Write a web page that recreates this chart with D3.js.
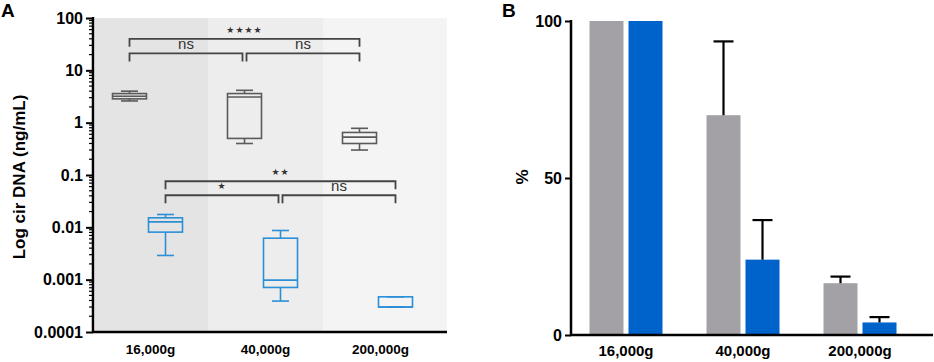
<!DOCTYPE html>
<html>
<head>
<meta charset="utf-8">
<script src="https://cdn.jsdelivr.net/npm/d3@7"></script>
<style>
  body { margin: 0; background: #fff; }
  svg text { font-family: "Liberation Sans", Arial, sans-serif; }
</style>
</head>
<body>
<svg id="chart" width="934" height="362"></svg>
<script>
// categories
const categories = ["16,000g", "40,000g", "200,000g"];

// panel A: box stats (min, q1, median, q3, max), ng/mL
const grayBoxes = [
  [2.6, 2.85, 3.2, 3.6, 4.0],
  [0.40, 0.50, 3.1, 3.6, 4.15],
  [0.30, 0.40, 0.53, 0.65, 0.78]
];
const blueBoxes = [
  [0.0029, 0.0081, 0.0127, 0.0152, 0.0176],
  [0.00039, 0.00071, 0.00098, 0.0062, 0.0087],
  [0.0003, 0.0003, 0.0003, 0.00047, 0.00047]
];
const logTicks = [100, 10, 1, 0.1, 0.01, 0.001, 0.0001];

// significance brackets: [from, to, level value, label]
const grayBrackets = [
  [0, 2, 40, "★★★★"],
  [0, 1, 21, "ns"],
  [1, 2, 21, "ns"]
];
const blueBrackets = [
  [0, 2, 0.076, "★★"],
  [0, 1, 0.041, "★"],
  [1, 2, 0.041, "ns"]
];

// panel B: percentages with SD
const grayPct = [100, 70, 16.5];
const grayErr = [0, 23.5, 2.1];
const bluePct = [100, 24, 4];
const blueErr = [0, 12.6, 1.7];
const pctTicks = [0, 50, 100];

const svg = d3.select("#chart");
const grayLine = "#5a5a5a";
const blueLine = "#2b8fd6";
const grayFill = "#a3a1a6";
const blueFill = "#0063cc";

// ---------- panel A ----------
const xA = d3.scaleBand().domain(d3.range(categories.length)).range([93, 438]);
const yA = d3.scaleLog().domain([0.0001, 100]).range([332, 18]);
const gA = svg.append("g");

// shaded column backgrounds
const shades = ["#e5e4e5", "#ededed", "#f4f4f4"];
gA.selectAll(".shade")
  .data(categories)
  .enter()
  .append("rect")
  .attr("x", (d, i) => i == 0 ? 95 : xA(i))
  .attr("y", yA(100))
  .attr("width", (d, i) => i == 0 ? xA(i) + xA.step() - 95 : (i == 2 ? 447 - xA(i) : xA.step()))
  .attr("height", yA(0.0001) - yA(100))
  .attr("fill", (d, i) => shades[i]);

function drawBoxes(data, offset, color) {
  const w = 34, cap = 17;
  const g = gA.selectAll(null)
    .data(data)
    .enter()
    .append("g")
    .attr("transform", (d, i) => "translate(" + (xA(i) + xA.bandwidth() / 2 + offset) + ",0)")
    .attr("stroke", color)
    .attr("stroke-width", 1.6)
    .attr("fill", "none");
  g.append("line").attr("y1", d => yA(d[0])).attr("y2", d => yA(d[1]));
  g.append("line").attr("y1", d => yA(d[3])).attr("y2", d => yA(d[4]));
  g.append("line").attr("x1", -cap / 2).attr("x2", cap / 2).attr("y1", d => yA(d[0])).attr("y2", d => yA(d[0]));
  g.append("line").attr("x1", -cap / 2).attr("x2", cap / 2).attr("y1", d => yA(d[4])).attr("y2", d => yA(d[4]));
  g.append("rect")
    .attr("x", -w / 2)
    .attr("width", w)
    .attr("y", d => yA(d[3]))
    .attr("height", d => yA(d[1]) - yA(d[3]));
  g.append("line").attr("x1", -w / 2).attr("x2", w / 2).attr("y1", d => yA(d[2])).attr("y2", d => yA(d[2]));
}
drawBoxes(grayBoxes, -21, grayLine);
drawBoxes(blueBoxes, 15, blueLine);

function drawBrackets(data, offset) {
  const drop = 8;
  const cx = i => xA(i) + xA.bandwidth() / 2 + offset;
  data.forEach(b => {
    const x1 = cx(b[0]) + (b[0] == 1 ? 2 : 0);
    const x2 = cx(b[1]) - (b[1] == 1 ? 2 : 0);
    const y = yA(b[2]);
    gA.append("path")
      .attr("d", "M" + x1 + "," + (y + drop) + "V" + y + "H" + x2 + "V" + (y + drop))
      .attr("fill", "none")
      .attr("stroke", "#444")
      .attr("stroke-width", 1.8);
    const star = b[3] != "ns";
    gA.append("text")
      .attr("x", (x1 + x2) / 2)
      .attr("y", y - (star ? 6 : 4))
      .attr("text-anchor", "middle")
      .style("font-family", star ? "DejaVu Sans" : null)
      .style("font-size", star ? "9px" : "15px")
      .style("letter-spacing", star ? "1px" : null)
      .attr("fill", "#333")
      .text(b[3]);
  });
}
drawBrackets(grayBrackets, -21);
drawBrackets(blueBrackets, 15);

// y axis (log) with minor ticks
const minor = [];
for (let e = -4; e < 2; e++) for (let m = 2; m < 10; m++) minor.push(m * Math.pow(10, e));
gA.selectAll(".minor")
  .data(minor)
  .enter()
  .append("line")
  .attr("x1", 89).attr("x2", 93)
  .attr("y1", d => yA(d)).attr("y2", d => yA(d))
  .attr("stroke", "#000").attr("stroke-width", 1.2);
const axA = gA.append("g")
  .attr("transform", "translate(93,0)")
  .call(d3.axisLeft(yA).tickValues(logTicks).tickSize(7).tickPadding(3).tickFormat(d => String(d)));
axA.select(".domain").attr("stroke-width", 2.5).attr("d", "M0,17V333");
axA.selectAll(".tick line").attr("stroke-width", 2);
axA.selectAll("text").style("font-size", "16px").style("font-weight", "bold").attr("fill", "#000");

// x axis line and labels
gA.append("line").attr("x1", 92).attr("x2", 447).attr("y1", 332).attr("y2", 332)
  .attr("stroke", "#000").attr("stroke-width", 2.5);
gA.selectAll(".xl")
  .data(categories)
  .enter()
  .append("text")
  .attr("x", (d, i) => xA(i) + xA.bandwidth() / 2)
  .attr("y", 354)
  .attr("text-anchor", "middle")
  .style("font-size", "13.5px")
  .style("font-weight", "bold")
  .text(d => d);

gA.append("text")
  .attr("transform", "translate(25,177) rotate(-90)")
  .attr("text-anchor", "middle")
  .style("font-size", "17px")
  .style("font-weight", "bold")
  .text("Log cir DNA (ng/mL)");
gA.append("text").attr("x", 1).attr("y", 17)
  .style("font-size", "19px").style("font-weight", "bold").text("A");

// ---------- panel B ----------
const xB = d3.scaleBand().domain(d3.range(categories.length)).range([567.5, 918.5]);
const yB = d3.scaleLinear().domain([0, 100]).range([335, 21]);
const gB = svg.append("g");
const barW = 34, gap = 5;

function drawBars(vals, errs, side, fill) {
  const bx = i => xB(i) + xB.bandwidth() / 2 + (side < 0 ? -gap / 2 - barW : gap / 2);
  gB.selectAll(null)
    .data(vals)
    .enter()
    .append("rect")
    .attr("x", (d, i) => bx(i))
    .attr("width", barW)
    .attr("y", d => yB(d))
    .attr("height", d => yB(0) - yB(d))
    .attr("fill", fill);
  const eg = gB.selectAll(null)
    .data(vals.map((v, i) => [v, errs[i], i]).filter(d => d[1] > 0))
    .enter()
    .append("g")
    .attr("stroke", "#000")
    .attr("stroke-width", 2.2);
  eg.append("line")
    .attr("x1", d => bx(d[2]) + barW / 2).attr("x2", d => bx(d[2]) + barW / 2)
    .attr("y1", d => yB(d[0])).attr("y2", d => yB(d[0] + d[1]));
  eg.append("line")
    .attr("x1", d => bx(d[2]) + barW / 2 - 10).attr("x2", d => bx(d[2]) + barW / 2 + 10)
    .attr("y1", d => yB(d[0] + d[1])).attr("y2", d => yB(d[0] + d[1]));
}
drawBars(grayPct, grayErr, -1, grayFill);
drawBars(bluePct, blueErr, 1, blueFill);

const axB = gB.append("g")
  .attr("transform", "translate(571,0)")
  .call(d3.axisLeft(yB).tickValues(pctTicks).tickSize(6).tickPadding(3));
axB.select(".domain").attr("stroke-width", 2.5).attr("d", "M0,20V336");
axB.selectAll(".tick line").attr("stroke-width", 2);
axB.selectAll("text").style("font-size", "16px").style("font-weight", "bold").attr("fill", "#000");

gB.append("line").attr("x1", 570).attr("x2", 933).attr("y1", 335).attr("y2", 335)
  .attr("stroke", "#000").attr("stroke-width", 2.5);
gB.selectAll(".xl")
  .data(categories)
  .enter()
  .append("text")
  .attr("x", (d, i) => xB(i) + xB.bandwidth() / 2)
  .attr("y", 356)
  .attr("text-anchor", "middle")
  .style("font-size", "15px")
  .style("font-weight", "bold")
  .text(d => d);
gB.append("text")
  .attr("transform", "translate(528,177) rotate(-90)")
  .attr("text-anchor", "middle")
  .style("font-size", "17px")
  .style("font-weight", "bold")
  .text("%");
gB.append("text").attr("x", 502).attr("y", 17)
  .style("font-size", "19px").style("font-weight", "bold").text("B");
</script>
</body>
</html>
